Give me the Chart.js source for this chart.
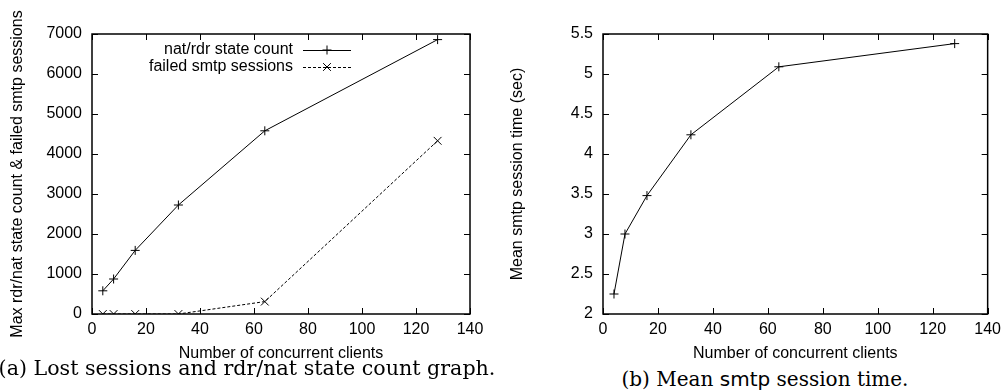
<!DOCTYPE html>
<html>
<head>
<meta charset="utf-8">
<script src="https://cdn.jsdelivr.net/npm/chart.js@4/dist/chart.umd.min.js"></script>
<style>
  body { margin: 0; background: #fff; }
  #wrap { position: relative; width: 1007px; height: 390px; overflow: hidden; }
  canvas { position: absolute; top: 0; }
  #chartA { left: 0; }
  #chartB { left: 500px; }
  .caption { position: absolute; font-family: "DejaVu Serif", "Liberation Serif", serif; font-size: 20px; color: #000; white-space: nowrap; transform: translate(-50%, -50%); }
  .caption .sf { font-family: "DejaVu Sans", sans-serif; }
</style>
</head>
<body>
<div id="wrap">
  <canvas id="chartA" width="500" height="365"></canvas>
  <canvas id="chartB" width="507" height="365"></canvas>
  <div class="caption" style="left:247px; top:368px; font-size:20.6px;">(a) Lost sessions and rdr/nat state count graph.</div>
  <div class="caption" style="left:765px; top:379px;">(b) Mean <span class="sf">smtp</span> session time.</div>
</div>
<script>
// number of concurrent clients (x values, shared by both plots)
const clients = [4, 8, 16, 32, 64, 128];
// plot (a)
const natRdrCount = [580, 875, 1590, 2725, 4580, 6860];
const failedSmtp = [0, 0, 0, 0, 310, 4330];
// plot (b)
const meanSessionTime = [2.25, 3.0, 3.48, 4.24, 5.09, 5.38];

const xLabel = "Number of concurrent clients";
const yLabelA = "Max rdr/nat state count & failed smtp sessions";
const yLabelB = "Mean smtp session time (sec)";

Chart.defaults.font.family = "'Liberation Sans', Arial, sans-serif";
Chart.defaults.color = "#000";

const toPoints = (ys) => clients.map((x, i) => ({ x: x, y: ys[i] }));

// gnuplot style frame with inward ticks on all four sides
const framePlugin = {
  id: "frame",
  afterDraw(chart) {
    const ctx = chart.ctx;
    const a = chart.chartArea;
    const xs = chart.scales.x, ys = chart.scales.y;
    const len = 6;
    ctx.save();
    ctx.strokeStyle = "#000";
    ctx.lineWidth = 1;
    ctx.beginPath();
    xs.ticks.forEach(t => {
      const px = Math.round(xs.getPixelForValue(t.value)) + 0.5;
      ctx.moveTo(px, a.bottom); ctx.lineTo(px, a.bottom - len);
      ctx.moveTo(px, a.top); ctx.lineTo(px, a.top + len);
    });
    ys.ticks.forEach(t => {
      const py = Math.round(ys.getPixelForValue(t.value)) + 0.5;
      ctx.moveTo(a.left, py); ctx.lineTo(a.left + len, py);
      ctx.moveTo(a.right, py); ctx.lineTo(a.right - len, py);
    });
    ctx.stroke();
    ctx.lineWidth = 1.5;
    ctx.strokeRect(a.left, a.top, a.right - a.left, a.bottom - a.top);
    ctx.restore();
  }
};

// legend: text right aligned, then a line sample with the marker
const keyPlugin = {
  id: "key",
  afterDraw(chart) {
    const ctx = chart.ctx;
    const a = chart.chartArea;
    ctx.save();
    ctx.font = "16px 'Liberation Sans', Arial, sans-serif";
    ctx.fillStyle = "#000";
    ctx.textAlign = "right";
    ctx.textBaseline = "middle";
    chart.data.datasets.forEach((ds, i) => {
      const y = a.top + 16 + i * 17;
      const textX = a.left + 201;
      ctx.fillText(ds.label, textX, y);
      const x0 = textX + 10, x1 = textX + 58;
      ctx.strokeStyle = "#000";
      ctx.lineWidth = 1;
      ctx.setLineDash(ds.borderDash || []);
      ctx.beginPath();
      ctx.moveTo(x0, y + 0.5); ctx.lineTo(x1, y + 0.5);
      ctx.stroke();
      ctx.setLineDash([]);
      Chart.helpers.drawPoint(ctx, { pointStyle: ds.pointStyle, radius: ds.pointRadius, borderWidth: 1 }, (x0 + x1) / 2, y);
    });
    ctx.restore();
  }
};

function makeOptions(yMin, yMax, yStep, yTitle, yWidth, rightPad) {
  return {
    responsive: false,
    animation: false,
    devicePixelRatio: 1,
    layout: { padding: { top: 34, right: rightPad, bottom: 0, left: 0 } },
    plugins: { legend: { display: false }, tooltip: { enabled: false } },
    scales: {
      x: {
        type: "linear",
        min: 0, max: 140,
        grid: { display: false, drawTicks: false },
        border: { display: false },
        ticks: { stepSize: 20, padding: 6, font: { size: 16 }, callback: v => String(v) },
        title: { display: true, text: xLabel, font: { size: 16 }, padding: { top: 0, bottom: 2 } },
        afterFit(scale) { scale.height = 51; }
      },
      y: {
        min: yMin, max: yMax,
        grid: { display: false, drawTicks: false },
        border: { display: false },
        ticks: { stepSize: yStep, padding: 10, font: { size: 16 }, callback: v => String(v) },
        title: { display: true, text: yTitle, font: { size: 16 }, padding: { top: 8, bottom: 0 } },
        afterFit(scale) { scale.width = yWidth; }
      }
    }
  };
}

new Chart(document.getElementById("chartA"), {
  type: "scatter",
  data: {
    datasets: [
      {
        label: "nat/rdr state count",
        data: toPoints(natRdrCount),
        showLine: true,
        borderColor: "#000",
        backgroundColor: "#000",
        borderWidth: 1,
        pointStyle: "cross",
        pointRadius: 4.5,
        pointBorderWidth: 1
      },
      {
        label: "failed smtp sessions",
        data: toPoints(failedSmtp),
        showLine: true,
        borderColor: "#000",
        backgroundColor: "#000",
        borderWidth: 1,
        borderDash: [3, 2],
        pointStyle: "crossRot",
        pointRadius: 5.5,
        pointBorderWidth: 1
      }
    ]
  },
  options: makeOptions(0, 7000, 1000, yLabelA, 92, 30),
  plugins: [framePlugin, keyPlugin]
});

new Chart(document.getElementById("chartB"), {
  type: "scatter",
  data: {
    datasets: [
      {
        label: "Mean smtp session time",
        data: toPoints(meanSessionTime),
        showLine: true,
        borderColor: "#000",
        backgroundColor: "#000",
        borderWidth: 1,
        pointStyle: "cross",
        pointRadius: 4.5,
        pointBorderWidth: 1
      }
    ]
  },
  options: makeOptions(2, 5.5, 0.5, yLabelB, 103, 18),
  plugins: [framePlugin]
});
</script>
</body>
</html>
